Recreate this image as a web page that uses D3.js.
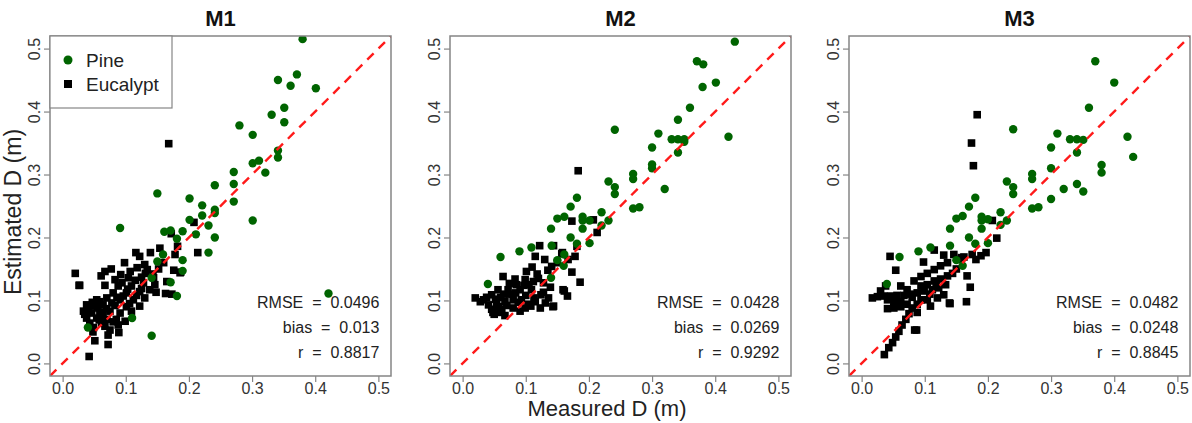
<!DOCTYPE html>
<html lang="en">
<head>
    <meta charset="UTF-8">
    <title>Measured vs estimated D</title>
    <script src="https://cdnjs.cloudflare.com/ajax/libs/d3/7.8.5/d3.min.js"></script>
    <style>
        body { margin: 0; background: #fff; }
        svg { display: block; font-family: 'Liberation Sans', Arial, sans-serif; }
    </style>
</head>
<body>
    <div id="wrapper"></div>
    <script>
        // 1. data: [measured, estimated]
        const panelTitles = ['M1', 'M2', 'M3']
        const tickValues = [0.0, 0.1, 0.2, 0.3, 0.4, 0.5]
        const axisDomain = [-0.02, 0.52]

        const statRmse = ['0.0496', '0.0428', '0.0482']
        const statBias = ['0.013', '0.0269', '0.0248']
        const statR = ['0.8817', '0.9292', '0.8845']

        const m1Pine = [
            [0.380, 0.515], [0.371, 0.459], [0.341, 0.450], [0.361, 0.441], [0.401, 0.437],
            [0.351, 0.406], [0.331, 0.395], [0.351, 0.383], [0.280, 0.378], [0.301, 0.363],
            [0.341, 0.338], [0.341, 0.327], [0.311, 0.322], [0.301, 0.318], [0.321, 0.303],
            [0.271, 0.304], [0.271, 0.285], [0.241, 0.283], [0.150, 0.270], [0.271, 0.257],
            [0.201, 0.262], [0.221, 0.251], [0.241, 0.244], [0.241, 0.239], [0.221, 0.235],
            [0.201, 0.228], [0.301, 0.227], [0.231, 0.219], [0.091, 0.215], [0.190, 0.210],
            [0.161, 0.209], [0.171, 0.211], [0.211, 0.205], [0.241, 0.200], [0.181, 0.198],
            [0.231, 0.176], [0.159, 0.173], [0.150, 0.162], [0.190, 0.164], [0.190, 0.147],
            [0.171, 0.129], [0.181, 0.107], [0.141, 0.136], [0.110, 0.072], [0.141, 0.044],
            [0.421, 0.111], [0.040, 0.057]
        ]

        const m1Euc = [
            [0.168, 0.349], [0.208, 0.224], [0.172, 0.206], [0.214, 0.176], [0.182, 0.186],
            [0.178, 0.173], [0.154, 0.183], [0.139, 0.176], [0.116, 0.176], [0.122, 0.170],
            [0.098, 0.160], [0.130, 0.157], [0.077, 0.150], [0.067, 0.146], [0.107, 0.146],
            [0.020, 0.143], [0.134, 0.149], [0.061, 0.139], [0.083, 0.133], [0.104, 0.136],
            [0.125, 0.137], [0.144, 0.136], [0.027, 0.124], [0.067, 0.124], [0.088, 0.123],
            [0.109, 0.123], [0.128, 0.128], [0.165, 0.130], [0.176, 0.148], [0.187, 0.145],
            [0.163, 0.111], [0.173, 0.110], [0.080, 0.112], [0.101, 0.112], [0.122, 0.114],
            [0.138, 0.117], [0.054, 0.101], [0.070, 0.104], [0.091, 0.101], [0.112, 0.101],
            [0.130, 0.104], [0.038, 0.093], [0.049, 0.091], [0.064, 0.093], [0.083, 0.092],
            [0.101, 0.090], [0.122, 0.091], [0.033, 0.083], [0.046, 0.080], [0.059, 0.081],
            [0.075, 0.083], [0.091, 0.080], [0.109, 0.083], [0.038, 0.072], [0.054, 0.072],
            [0.070, 0.070], [0.099, 0.067], [0.043, 0.064], [0.062, 0.064], [0.080, 0.066],
            [0.088, 0.061], [0.049, 0.057], [0.075, 0.053], [0.067, 0.059], [0.048, 0.050],
            [0.072, 0.045], [0.042, 0.011], [0.072, 0.030], [0.051, 0.036], [0.089, 0.049],
            [0.085, 0.070], [0.186, 0.144], [0.026, 0.124], [0.058, 0.098], [0.094, 0.128],
            [0.115, 0.132], [0.117, 0.108], [0.146, 0.125], [0.152, 0.150], [0.056, 0.088],
            [0.078, 0.096], [0.096, 0.107], [0.040, 0.087], [0.064, 0.077], [0.106, 0.095],
            [0.125, 0.119], [0.143, 0.142], [0.160, 0.160], [0.047, 0.097], [0.069, 0.087],
            [0.086, 0.105], [0.103, 0.118], [0.118, 0.152], [0.092, 0.141], [0.035, 0.078],
            [0.058, 0.069], [0.131, 0.143], [0.148, 0.113]
        ]

        const m2Pine = [
            [0.431, 0.511], [0.371, 0.480], [0.381, 0.475], [0.401, 0.446], [0.380, 0.439],
            [0.360, 0.406], [0.341, 0.387], [0.241, 0.371], [0.310, 0.365], [0.421, 0.360],
            [0.331, 0.356], [0.341, 0.356], [0.351, 0.356], [0.351, 0.352], [0.300, 0.343],
            [0.341, 0.335], [0.300, 0.316], [0.300, 0.310], [0.270, 0.301], [0.270, 0.293],
            [0.231, 0.289], [0.241, 0.280], [0.320, 0.277], [0.241, 0.269], [0.181, 0.263],
            [0.171, 0.249], [0.270, 0.246], [0.280, 0.248], [0.220, 0.240], [0.161, 0.233],
            [0.150, 0.230], [0.190, 0.233], [0.190, 0.227], [0.201, 0.227], [0.231, 0.227],
            [0.140, 0.214], [0.190, 0.214], [0.220, 0.219], [0.171, 0.200], [0.201, 0.191],
            [0.181, 0.190], [0.109, 0.184], [0.090, 0.178], [0.141, 0.187], [0.060, 0.169],
            [0.161, 0.173], [0.150, 0.164], [0.160, 0.155], [0.140, 0.136], [0.040, 0.126]
        ]

        const m2Euc = [
            [0.183, 0.306], [0.207, 0.228], [0.213, 0.208], [0.173, 0.226], [0.186, 0.129],
            [0.173, 0.145], [0.161, 0.115], [0.166, 0.107], [0.143, 0.090], [0.122, 0.187],
            [0.144, 0.187], [0.181, 0.186], [0.158, 0.176], [0.115, 0.170], [0.130, 0.165],
            [0.157, 0.174], [0.167, 0.165], [0.178, 0.170], [0.141, 0.154], [0.101, 0.146],
            [0.110, 0.153], [0.064, 0.138], [0.083, 0.134], [0.099, 0.133], [0.120, 0.135],
            [0.128, 0.128], [0.159, 0.117], [0.020, 0.104], [0.033, 0.101], [0.046, 0.109],
            [0.056, 0.117], [0.072, 0.117], [0.091, 0.117], [0.109, 0.117], [0.124, 0.109],
            [0.041, 0.093], [0.054, 0.096], [0.067, 0.098], [0.080, 0.101], [0.093, 0.101],
            [0.115, 0.098], [0.131, 0.096], [0.046, 0.086], [0.062, 0.086], [0.080, 0.088],
            [0.099, 0.088], [0.123, 0.088], [0.144, 0.091], [0.050, 0.078], [0.067, 0.076],
            [0.091, 0.083], [0.108, 0.091], [0.136, 0.104], [0.048, 0.081], [0.028, 0.098],
            [0.060, 0.105], [0.075, 0.110], [0.085, 0.125], [0.105, 0.125], [0.118, 0.142],
            [0.135, 0.148], [0.150, 0.160], [0.038, 0.105], [0.070, 0.092], [0.100, 0.108],
            [0.113, 0.104], [0.128, 0.113], [0.057, 0.090], [0.088, 0.097], [0.074, 0.127],
            [0.052, 0.102], [0.065, 0.110], [0.084, 0.112], [0.097, 0.124], [0.112, 0.130],
            [0.139, 0.121], [0.059, 0.081], [0.104, 0.094]
        ]

        const m3Pine = [
            [0.370, 0.480], [0.400, 0.446], [0.360, 0.406], [0.240, 0.372], [0.310, 0.365],
            [0.421, 0.360], [0.330, 0.356], [0.341, 0.356], [0.351, 0.355], [0.300, 0.343],
            [0.341, 0.335], [0.430, 0.328], [0.380, 0.315], [0.300, 0.310], [0.380, 0.303],
            [0.270, 0.301], [0.270, 0.293], [0.230, 0.289], [0.341, 0.285], [0.240, 0.280],
            [0.320, 0.277], [0.351, 0.273], [0.240, 0.269], [0.300, 0.261], [0.180, 0.263],
            [0.170, 0.249], [0.270, 0.246], [0.280, 0.248], [0.220, 0.240], [0.160, 0.234],
            [0.150, 0.230], [0.190, 0.233], [0.190, 0.227], [0.200, 0.229], [0.230, 0.227],
            [0.140, 0.214], [0.190, 0.214], [0.220, 0.220], [0.170, 0.200], [0.200, 0.191],
            [0.180, 0.190], [0.109, 0.184], [0.090, 0.178], [0.140, 0.187], [0.060, 0.169],
            [0.160, 0.155], [0.150, 0.164], [0.040, 0.126]
        ]

        const m3Euc = [
            [0.183, 0.395], [0.174, 0.350], [0.177, 0.314], [0.207, 0.227], [0.214, 0.199],
            [0.045, 0.170], [0.054, 0.148], [0.098, 0.161], [0.115, 0.180], [0.130, 0.172],
            [0.146, 0.173], [0.162, 0.169], [0.175, 0.173], [0.153, 0.165], [0.167, 0.139],
            [0.172, 0.121], [0.166, 0.098], [0.139, 0.096], [0.084, 0.053], [0.036, 0.014],
            [0.043, 0.025], [0.049, 0.033], [0.054, 0.042], [0.059, 0.051], [0.064, 0.061],
            [0.070, 0.070], [0.075, 0.079], [0.080, 0.088], [0.088, 0.081], [0.017, 0.104],
            [0.025, 0.106], [0.035, 0.107], [0.046, 0.107], [0.056, 0.108], [0.067, 0.108],
            [0.077, 0.110], [0.088, 0.112], [0.041, 0.101], [0.051, 0.098], [0.062, 0.098],
            [0.041, 0.087], [0.051, 0.088], [0.062, 0.090], [0.072, 0.094], [0.083, 0.131],
            [0.094, 0.138], [0.104, 0.143], [0.115, 0.149], [0.125, 0.155], [0.136, 0.160],
            [0.094, 0.123], [0.104, 0.125], [0.115, 0.131], [0.125, 0.134], [0.136, 0.139],
            [0.144, 0.143], [0.099, 0.115], [0.112, 0.117], [0.122, 0.120], [0.133, 0.125],
            [0.104, 0.101], [0.120, 0.104], [0.130, 0.109], [0.094, 0.101], [0.072, 0.117],
            [0.062, 0.123], [0.038, 0.123], [0.030, 0.115], [0.109, 0.091], [0.088, 0.094],
            [0.189, 0.171], [0.197, 0.176], [0.181, 0.165], [0.087, 0.053], [0.140, 0.095],
            [0.108, 0.110], [0.118, 0.128], [0.150, 0.150], [0.158, 0.168], [0.080, 0.105]
        ]

        const pineSets = [m1Pine, m2Pine, m3Pine]
        const eucSets = [m1Euc, m2Euc, m3Euc]

        // 2. dimensions
        const dimensions = {
            width: 1192,
            height: 423,
            panelLefts: [50, 450, 849],
            panelWidth: 341,
            top: 36,
            bottom: 376
        }

        const pineColor = '#006400'
        const frameColor = '#858585'
        const textColor = '#222'
        const fontFamily = "'Liberation Sans', Arial, sans-serif"

        const svg = d3.select('#wrapper')
            .append('svg')
                .attr('width', dimensions.width)
                .attr('height', dimensions.height)

        const xAccessor = d => d[0]
        const yAccessor = d => d[1]

        const yScale = d3.scaleLinear()
            .domain(axisDomain)
            .range([dimensions.bottom, dimensions.top])

        panelTitles.forEach((title, i) => {
            const left = dimensions.panelLefts[i]
            const xScale = d3.scaleLinear()
                .domain(axisDomain)
                .range([left, left + dimensions.panelWidth])

            const panel = svg.append('g')

            const clipId = `clip-${i}`
            panel.append('clipPath')
                .attr('id', clipId)
                .append('rect')
                    .attr('x', left)
                    .attr('y', dimensions.top)
                    .attr('width', dimensions.panelWidth)
                    .attr('height', dimensions.bottom - dimensions.top)

            // 3. axes
            const xAxis = panel.append('g')
                .attr('transform', `translate(0,${dimensions.bottom})`)
                .call(d3.axisBottom(xScale).tickValues(tickValues).tickSize(6).tickFormat(d3.format('.1f')))
            xAxis.select('.domain').remove()
            xAxis.selectAll('line').attr('stroke', frameColor).attr('stroke-width', 1.2)
            xAxis.selectAll('text')
                .attr('y', 18)
                .attr('dy', null)
                .attr('fill', '#333')
                .style('font-size', '16px')
                .style('font-family', fontFamily)

            const yAxis = panel.append('g')
                .attr('transform', `translate(${left},0)`)
                .call(d3.axisLeft(yScale).tickValues(tickValues).tickSize(6).tickFormat(d3.format('.1f')))
            yAxis.select('.domain').remove()
            yAxis.selectAll('line').attr('stroke', frameColor).attr('stroke-width', 1.2)
            yAxis.selectAll('text')
                .attr('x', null)
                .attr('dy', null)
                .attr('transform', 'translate(-10,0) rotate(-90)')
                .style('text-anchor', 'middle')
                .attr('fill', '#333')
                .style('font-size', '16px')
                .style('font-family', fontFamily)

            // 4. points
            const plotArea = panel.append('g').attr('clip-path', `url(#${clipId})`)

            plotArea.selectAll('rect.euc')
                .data(eucSets[i])
                .join('rect')
                    .attr('class', 'euc')
                    .attr('x', d => xScale(xAccessor(d)) - 3.8)
                    .attr('y', d => yScale(yAccessor(d)) - 3.8)
                    .attr('width', 7.6)
                    .attr('height', 7.6)
                    .attr('fill', '#000')

            plotArea.selectAll('circle.pine')
                .data(pineSets[i])
                .join('circle')
                    .attr('class', 'pine')
                    .attr('cx', d => xScale(xAccessor(d)))
                    .attr('cy', d => yScale(yAccessor(d)))
                    .attr('r', 4.2)
                    .attr('fill', pineColor)

            // 1:1 line
            plotArea.append('line')
                .attr('x1', xScale(axisDomain[0]))
                .attr('y1', yScale(axisDomain[0]))
                .attr('x2', xScale(axisDomain[1]))
                .attr('y2', yScale(axisDomain[1]))
                .attr('stroke', '#ff1a1a')
                .attr('stroke-width', 2.4)
                .attr('stroke-dasharray', '9,7')

            // frame
            panel.append('rect')
                .attr('x', left)
                .attr('y', dimensions.top)
                .attr('width', dimensions.panelWidth)
                .attr('height', dimensions.bottom - dimensions.top)
                .attr('fill', 'none')
                .attr('stroke', frameColor)
                .attr('stroke-width', 1.5)

            // title
            panel.append('text')
                .attr('x', left + dimensions.panelWidth / 2)
                .attr('y', 26)
                .attr('text-anchor', 'middle')
                .attr('fill', '#111')
                .style('font-size', '22px')
                .style('font-weight', 'bold')
                .text(title)

            // stats, R-style double spacing round the '='
            const statLines = [
                `RMSE  =  ${statRmse[i]}`,
                `bias  =  ${statBias[i]}`,
                `r  =  ${statR[i]}`
            ]
            panel.selectAll('text.stat')
                .data(statLines)
                .join('text')
                    .attr('class', 'stat')
                    .attr('xml:space', 'preserve')
                    .attr('x', xScale(0.5) + 1)
                    .attr('y', (d, j) => dimensions.bottom - 68 + j * 25)
                    .attr('text-anchor', 'end')
                    .attr('fill', textColor)
                    .style('font-size', '16px')
                    .style('white-space', 'pre')
                    .text(d => d)
        })

        // 5. legend in first panel
        const legendLeft = dimensions.panelLefts[0]
        const legend = svg.append('g')
        legend.append('rect')
            .attr('x', legendLeft)
            .attr('y', dimensions.top)
            .attr('width', 122)
            .attr('height', 72)
            .attr('fill', '#fff')
            .attr('stroke', frameColor)
            .attr('stroke-width', 1.2)
        legend.append('circle')
            .attr('cx', legendLeft + 18)
            .attr('cy', dimensions.top + 24)
            .attr('r', 4.5)
            .attr('fill', pineColor)
        legend.append('rect')
            .attr('x', legendLeft + 14)
            .attr('y', dimensions.top + 44)
            .attr('width', 8)
            .attr('height', 8)
            .attr('fill', '#000')
        legend.append('text')
            .attr('x', legendLeft + 36)
            .attr('y', dimensions.top + 31)
            .attr('fill', textColor)
            .style('font-size', '19px')
            .text('Pine')
        legend.append('text')
            .attr('x', legendLeft + 36)
            .attr('y', dimensions.top + 55)
            .attr('fill', textColor)
            .style('font-size', '19px')
            .text('Eucalypt')

        // 6. axis labels
        svg.append('text')
            .attr('transform', `translate(21,${(dimensions.top + dimensions.bottom) / 2 + 6}) rotate(-90)`)
            .attr('text-anchor', 'middle')
            .attr('fill', textColor)
            .style('font-size', '23px')
            .text('Estimated D (m)')

        svg.append('text')
            .attr('x', 607)
            .attr('y', 416)
            .attr('text-anchor', 'middle')
            .attr('fill', textColor)
            .style('font-size', '22px')
            .text('Measured D (m)')
    </script>
</body>
</html>
